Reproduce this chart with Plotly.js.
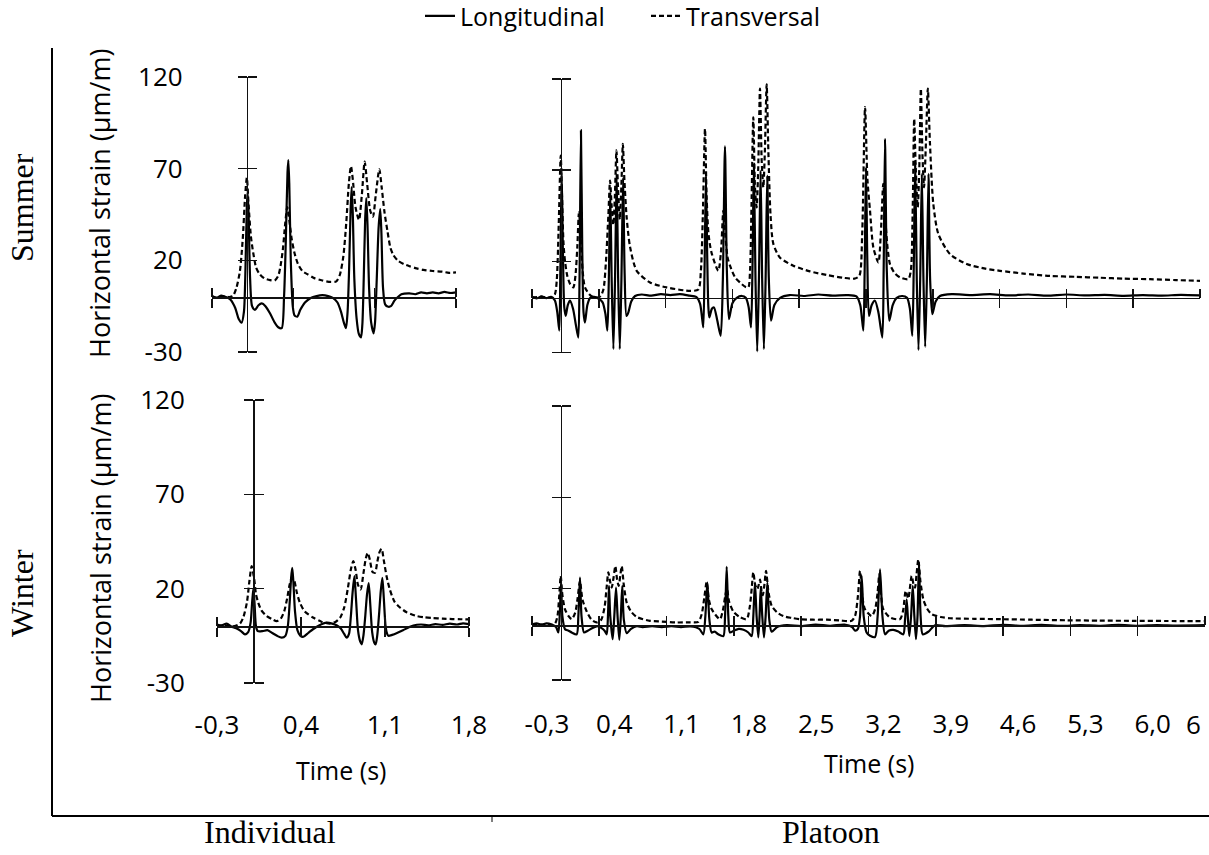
<!DOCTYPE html>
<html><head><meta charset="utf-8">
<script src="https://cdn.plot.ly/plotly-3.0.1.min.js"></script>
<style>html,body{margin:0;padding:0;background:#fff;overflow:hidden}</style>
</head><body><div id="chart" style="width:1209px;height:855px"></div>
<script>
// ---------- DATA ----------
// Summer, individual vehicle
const sIndLongT = [-0.30,-0.26,-0.22,-0.18,-0.14,-0.10,-0.07,-0.045,-0.025,-0.012,0.000,0.007,0.015,0.028,0.045,0.07,0.10,0.128,0.16,0.20,0.24,0.27,0.30,0.32,0.335,0.350,0.357,0.365,0.378,0.395,0.41,0.434,0.46,0.50,0.55,0.60,0.65,0.70,0.74,0.78,0.81,0.835,0.853,0.867,0.880,0.893,0.902,0.912,0.925,0.945,0.963,0.982,0.994,1.006,1.018,1.028,1.038,1.052,1.070,1.091,1.103,1.117,1.134,1.148,1.158,1.172,1.19,1.217,1.24,1.27,1.30,1.33,1.40,1.45,1.50,1.55,1.60,1.65,1.70,1.75,1.80];
const sIndLongV = [0.5,-0.5,0.8,0,-1.5,-6,-12,-14,-8,15,50,57,45,10,-5,-7,-4.5,-3.5,-5,-9,-14,-16.5,-17,0,30,68,74.7,62,20,-5,-10,-10.7,-7,-3,-0.5,0.5,1,0.5,-0.5,-3,-8,-14,-17,-8,15,48,60,45,10,-12,-20,-22,-15,10,42,54,40,5,-14,-19.8,-14,8,38,48,35,5,-4,-5.3,-5,-2,0,1.5,2,1.5,2.5,2,2.5,2,2.8,2.2,2.5];
const sIndTransT = [-0.30,-0.25,-0.20,-0.15,-0.12,-0.09,-0.06,-0.035,-0.015,0.000,0.015,0.035,0.055,0.08,0.11,0.15,0.20,0.24,0.27,0.29,0.31,0.33,0.348,0.365,0.385,0.41,0.44,0.48,0.52,0.58,0.65,0.72,0.77,0.80,0.83,0.855,0.878,0.896,0.912,0.935,0.965,0.99,1.014,1.035,1.062,1.085,1.11,1.14,1.16,1.185,1.21,1.235,1.26,1.30,1.35,1.40,1.46,1.52,1.60,1.68,1.74,1.80];
const sIndTransV = [0.3,-0.5,0.5,0,0.5,5,14,32,55,65,50,33,24,16,12.5,10.2,9.2,9,11.5,17,26,40,49,42,32,24,18,14,12.5,10.3,9,8.2,8.5,12,22,40,62,71.4,64,49,42,56,73.8,62,47,43.8,56,69.6,60,46,36,27,23,19.8,18,16.8,15.6,14.8,14.2,13.8,13.2,13.4];

// Summer, platoon
const sPlaLongT = [-0.30,-0.25,-0.20,-0.15,-0.10,-0.06,-0.035,-0.014,-0.003,0.011,0.024,0.038,0.053,0.075,0.098,0.13,0.16,0.185,0.198,0.213,0.227,0.24,0.255,0.28,0.31,0.35,0.40,0.44,0.47,0.49,0.505,0.52,0.535,0.553,0.57,0.587,0.603,0.62,0.637,0.655,0.67,0.69,0.71,0.74,0.78,0.85,0.95,1.05,1.15,1.25,1.35,1.42,1.46,1.48,1.495,1.508,1.523,1.537,1.548,1.558,1.585,1.607,1.64,1.677,1.70,1.722,1.742,1.764,1.80,1.845,1.90,1.94,1.97,1.995,2.01,2.025,2.042,2.06,2.078,2.095,2.112,2.13,2.148,2.165,2.182,2.205,2.24,2.30,2.40,2.55,2.70,2.85,3.00,3.10,3.14,3.172,3.186,3.20,3.214,3.231,3.26,3.294,3.33,3.371,3.385,3.399,3.418,3.444,3.48,3.522,3.58,3.63,3.66,3.685,3.70,3.715,3.732,3.75,3.768,3.785,3.802,3.82,3.838,3.855,3.872,3.895,3.93,3.975,4.1,4.3,4.5,4.7,4.9,5.1,5.3,5.5,5.7,5.9,6.1,6.3,6.5,6.7];
const sPlaLongV = [0.5,-0.3,0.8,-0.2,0.5,-1.5,-8,-18,15,68.9,25,-5,-9.9,-4,-1.6,-6,-15,-21.8,10,91.8,25,-8,-13.6,-4,0,0.5,-0.5,-2.5,-9,-18,10,58,10,-28.2,10,68,10,-28.2,10,66,15,-10,-8,-2,1,1.8,1.2,2,1.5,2,1.2,0.5,-3,-10,-16.3,15,67,20,-5,-10.8,-6,-5.3,-12,-20.9,10,83,15,-11.7,-3,0,1,0,-5,-16.3,15,73.5,10,-29.5,10,69.8,10,-28.2,10,67,10,-12.6,-4,0,1.5,1,1.8,1.2,1.5,0.8,-4,-18,15,71.6,20,-9.9,-4,-1.6,-8,-21.8,15,87.2,15,-12.6,-4,0,1,0,-6,-20.9,15,73.5,10,-28.7,10,68,10,-26.9,10,68,10,-9,-2,1,2,1.5,2,1.3,1.8,1.2,1.8,1.3,1.6,1.1,1.5,1.2,1.6,1.3];
const sPlaTransT = [-0.30,-0.20,-0.10,-0.06,-0.04,-0.02,0.001,0.015,0.03,0.046,0.07,0.10,0.133,0.155,0.175,0.192,0.21,0.23,0.255,0.30,0.34,0.378,0.42,0.45,0.475,0.50,0.518,0.535,0.553,0.568,0.585,0.60,0.62,0.637,0.652,0.668,0.692,0.727,0.797,0.937,1.11,1.356,1.443,1.47,1.49,1.513,1.53,1.55,1.58,1.652,1.68,1.705,1.725,1.75,1.775,1.83,1.88,1.935,1.967,1.985,2.0,2.019,2.037,2.054,2.07,2.089,2.107,2.124,2.14,2.159,2.177,2.20,2.229,2.299,2.438,2.613,2.788,2.962,3.08,3.13,3.16,3.19,3.215,3.242,3.277,3.33,3.355,3.381,3.40,3.425,3.451,3.50,3.556,3.643,3.67,3.69,3.705,3.722,3.742,3.758,3.775,3.792,3.808,3.828,3.848,3.87,3.905,3.958,4.08,4.255,4.45,4.604,4.85,5.128,5.40,5.652,5.90,6.176,6.45,6.70];
const sPlaTransV = [0,0.5,0,2,10,40,78,55,30,20,12,7.5,5.7,12,28,46.9,35,15,5.7,2,0.5,0,1,5,20,45,64.3,50,40,55,80.8,62,43,62,84.4,65,44,28,14.8,8.4,5.7,3.8,4.5,15,45,92.7,55,35,25,14.8,25,47.8,35,22,17.6,11,8.4,6,5.7,15,50,99,60,49.6,70,114.7,75,60.6,80,117,80,45,29.6,22,17.6,14.5,12.5,11,10.5,12,35,104.6,65,47.8,27.6,19.4,35,62.5,45,28,18.5,13.5,11.2,10.2,15,50,98.2,70,49.6,70,114.7,78,60.6,85,114.7,85,51.6,35,24,18.5,16,14.8,13.3,12,11.5,11,10.5,10.2,9.7,9.3];

// Winter, individual vehicle
const wIndLongT = [-0.30,-0.26,-0.22,-0.18,-0.14,-0.10,-0.067,-0.04,-0.02,-0.008,0.003,0.013,0.025,0.04,0.08,0.12,0.16,0.20,0.239,0.27,0.29,0.305,0.318,0.327,0.336,0.35,0.37,0.395,0.42,0.46,0.50,0.55,0.614,0.66,0.70,0.73,0.76,0.78,0.80,0.815,0.83,0.845,0.858,0.875,0.893,0.906,0.92,0.935,0.95,0.964,0.977,0.993,1.01,1.022,1.035,1.05,1.065,1.078,1.09,1.105,1.118,1.128,1.16,1.20,1.25,1.30,1.336,1.40,1.46,1.52,1.58,1.64,1.70,1.75,1.80];
const wIndLongV = [1,0.5,1.5,0,-1,-2.5,-4.2,-3,2,12,20,12,0,-2.5,-2.5,-2,-3.5,-5,-6,-5,0,12,26,31,24,8,-2,-5,-5.5,-3.5,-1.5,0.5,2,1.5,0.5,-1,-4,-6,-4,5,18,26.6,15,-2,-8,-9.5,-5,5,17,23,12,-3,-8.5,-9.5,-5,6,19,25.7,15,0,-4,-5,-4.5,-3.5,-2,-0.5,0.5,1,0.6,1.2,0.8,1.5,1,1.6,1.2];
const wIndTransT = [-0.30,-0.24,-0.18,-0.14,-0.108,-0.08,-0.05,-0.03,-0.011,0.01,0.025,0.044,0.07,0.114,0.16,0.197,0.23,0.26,0.285,0.305,0.325,0.345,0.365,0.39,0.43,0.50,0.57,0.64,0.69,0.725,0.76,0.79,0.815,0.836,0.855,0.875,0.897,0.92,0.94,0.956,0.975,0.995,1.017,1.035,1.055,1.072,1.09,1.115,1.14,1.18,1.225,1.28,1.364,1.43,1.50,1.58,1.66,1.73,1.80];
const wIndTransV = [0,0.5,0,0.5,1.5,5,13,24,31.9,25,17,12.5,8.5,5.5,3.8,2.8,4,8,15,22,26,24,18,12.7,8,4.7,2.5,1.5,2.5,4.5,10,20,30,34.6,30,22,19.6,28,36,39,35,29,28.4,34,39.5,41.1,35,26,19.6,13,10,7.5,5.5,4.8,4.4,4.1,3.9,3.8,3.7];

// Winter, platoon
const wPlaLongT = [-0.30,-0.25,-0.20,-0.15,-0.10,-0.05,-0.026,-0.012,0.002,0.016,0.043,0.08,0.113,0.165,0.182,0.199,0.215,0.241,0.28,0.33,0.38,0.42,0.455,0.477,0.49,0.501,0.514,0.539,0.556,0.574,0.59,0.608,0.624,0.639,0.655,0.685,0.73,0.789,0.85,0.95,1.05,1.15,1.25,1.35,1.44,1.482,1.503,1.524,1.545,1.569,1.60,1.638,1.69,1.708,1.725,1.742,1.759,1.80,1.85,1.90,1.95,1.985,2.002,2.019,2.036,2.054,2.067,2.079,2.095,2.113,2.13,2.148,2.168,2.193,2.25,2.35,2.50,2.65,2.80,2.95,3.03,3.06,3.09,3.112,3.129,3.15,3.18,3.216,3.268,3.295,3.32,3.345,3.372,3.41,3.458,3.51,3.562,3.58,3.597,3.612,3.625,3.643,3.66,3.677,3.694,3.71,3.725,3.742,3.764,3.822,3.892,4.0,4.2,4.4,4.6,4.8,5.0,5.2,5.4,5.6,5.8,6.0,6.2,6.4,6.7];
const wPlaLongV = [0.5,1,0.3,1,0.5,-1,-4,5,23.3,5,-2.2,-3,-4,-5,5,26,5,-4,-3,-1.5,-0.5,-1.5,-3,-5,5,21.5,5,-7.7,5,20.6,5,-8,5,21.5,3,-4.4,-2,-0.5,-1,-0.5,-1,-0.5,-1,-0.7,-2,-5,5,23.3,3,-4,-3.5,-5,-6,5,32,5,-4,-3,-2,-2.5,-4,-6,5,23.3,5,-6.7,5,20.6,5,-6.7,5,23.3,3,-3.6,-1,0,-0.5,0.3,-0.3,0.3,-1,-3,-2,5,27,5,-4,-5.8,-6.5,5,30.6,5,-5,-3,-2.6,-3.5,-5,3,14.2,2,-6,5,21.5,5,-7.7,5,34.3,5,-5,-3.6,0,-0.5,0,-0.5,0.2,-0.3,0.2,-0.4,0,-0.3,0.2,-0.3,0.1,-0.2,0];
const wPlaTransT = [-0.30,-0.20,-0.10,-0.06,-0.035,-0.018,-0.001,0.015,0.043,0.08,0.113,0.15,0.175,0.199,0.225,0.269,0.32,0.373,0.42,0.455,0.475,0.494,0.512,0.529,0.548,0.567,0.585,0.602,0.618,0.633,0.655,0.685,0.73,0.789,0.927,1.05,1.205,1.34,1.43,1.465,1.492,1.517,1.54,1.569,1.655,1.685,1.71,1.728,1.75,1.794,1.86,1.933,1.965,1.985,2.002,2.022,2.043,2.058,2.072,2.087,2.10,2.117,2.134,2.16,2.193,2.25,2.314,2.40,2.488,2.62,2.765,2.90,3.025,3.06,3.09,3.112,3.135,3.164,3.233,3.27,3.295,3.312,3.33,3.354,3.424,3.528,3.56,3.587,3.614,3.63,3.649,3.67,3.684,3.70,3.718,3.74,3.77,3.81,3.857,3.95,4.048,4.30,4.568,4.90,5.262,5.60,5.955,6.30,6.70];
const wPlaTransV = [0,0.3,0,1,5,15,27,17,8.7,5,3.3,7,15,24.2,14,7.5,3,1.5,3,10,20,29,24,20.6,26,32.4,25,21.5,27,32.4,22,12.4,7.5,4.5,2.4,2,1.5,1.6,1.8,6,15,23.7,14,8.7,3.3,8,16,20,13,7.5,4.5,3.3,10,20,29,22,19.7,22,25,19,16.4,22,29.7,18,10.6,7,5,4,3.3,3,3,2.6,2.4,5,16,29.7,16,8.7,5,9,18,27.9,17,8.7,4.2,3.3,8,18.8,14.6,20,27,22,20.6,28,36,24,14.2,9,6,4.5,3.8,3.5,3.3,3,2.7,2.5,2.4,2.3,2.2];

// Axes ticks
const strainTickVals = [-30, 20, 70, 120];
const strainTickText = ['-30', '20', '70', '120'];
const indTimeTickVals = [-0.3, 0.4, 1.1, 1.8];
const indTimeTickText = ['-0,3', '0,4', '1,1', '1,8'];
const plaTimeTickVals = [-0.3, 0.4, 1.1, 1.8, 2.5, 3.2, 3.9, 4.6, 5.3, 6.0, 6.7];
const plaTimeTickText = ['-0,3', '0,4', '1,1', '1,8', '2,5', '3,2', '3,9', '4,6', '5,3', '6,0', ''];
const plaLastTickLabel = '6';   // the last label is truncated to "6" at the chart edge
const strainRange = [-30, 120];
const indTimeRange = [-0.3, 1.8];
const plaTimeRange = [-0.3, 6.7];

// ---------- LAYOUT HELPERS ----------
const W = 1209, H = 855;
const FONT = 'Open Sans, sans-serif';
const SERIF = 'Liberation Serif, Times New Roman, serif';
const px = v => v / W;
const py = v => 1 - v / H;

function zeroPos(dom, rng) { return dom[0] + (0 - rng[0]) / (rng[1] - rng[0]) * (dom[1] - dom[0]); }

const panels = {
  A: {xd: [px(212), px(456)], yd: [py(352), py(77)], xr: indTimeRange},
  B: {xd: [px(532), px(1200)], yd: [py(352.5), py(79)], xr: plaTimeRange},
  C: {xd: [px(217), px(469)], yd: [py(683), py(400)], xr: indTimeRange},
  D: {xd: [px(532), px(1205)], yd: [py(680), py(406)], xr: plaTimeRange}
};

function xAx(p, tv, tt, showLab, shift) {
  return {
    domain: p.xd, range: p.xr, anchor: 'free', position: zeroPos(p.yd, strainRange),
    showline: true, linecolor: '#111', linewidth: 1.6,
    tickmode: 'array', tickvals: tv, ticktext: tt,
    ticks: 'outside', ticklen: 9, tickwidth: 1.6, tickcolor: '#111',
    minor: {tickmode: 'array', tickvals: tv, ticks: 'inside', ticklen: 9, tickwidth: 1.6, tickcolor: '#111'},
    showticklabels: showLab, ticklabelstandoff: 66, ticklabelshift: shift || 0,
    ticklabeloverflow: 'allow',
    tickfont: {family: FONT, size: 26, color: '#000'},
    showgrid: false, zeroline: false, fixedrange: true
  };
}
function yAx(p, showLab, standoff) {
  return {
    domain: p.yd, range: strainRange, anchor: 'free', position: zeroPos(p.xd, p.xr),
    showline: true, linecolor: '#111', linewidth: 1.6,
    tickmode: 'array', tickvals: strainTickVals, ticktext: strainTickText,
    ticks: 'outside', ticklen: 9, tickwidth: 1.6, tickcolor: '#111',
    minor: {tickmode: 'array', tickvals: strainTickVals, ticks: 'inside', ticklen: 9, tickwidth: 1.6, tickcolor: '#111'},
    showticklabels: showLab, ticklabelstandoff: standoff,
    tickfont: {family: FONT, size: 26, color: '#000'},
    showgrid: false, zeroline: false, fixedrange: true
  };
}

const solid = {color: '#000', width: 2.2, shape: 'spline', smoothing: 0.7};
const dashed = {color: '#000', width: 2.2, dash: '5px,3px', shape: 'spline', smoothing: 0.7};

function tr(x, y, line, xa, ya, name, show) {
  return {type: 'scatter', mode: 'lines', x, y, xaxis: xa, yaxis: ya, line, name,
          legendgroup: name, showlegend: show, hoverinfo: 'skip'};
}

const data = [
  tr(sIndLongT, sIndLongV, solid, 'x', 'y', 'Longitudinal', true),
  tr(sIndTransT, sIndTransV, dashed, 'x', 'y', 'Transversal', true),
  tr(sPlaLongT, sPlaLongV, solid, 'x2', 'y2', 'Longitudinal', false),
  tr(sPlaTransT, sPlaTransV, dashed, 'x2', 'y2', 'Transversal', false),
  tr(wIndLongT, wIndLongV, solid, 'x3', 'y3', 'Longitudinal', false),
  tr(wIndTransT, wIndTransV, dashed, 'x3', 'y3', 'Transversal', false),
  tr(wPlaLongT, wPlaLongV, solid, 'x4', 'y4', 'Longitudinal', false),
  tr(wPlaTransT, wPlaTransV, dashed, 'x4', 'y4', 'Transversal', false)
];

function ann(text, x, y, size, family, angle) {
  return {text, x: px(x), y: py(y), xref: 'paper', yref: 'paper', showarrow: false,
          xanchor: 'center', yanchor: 'middle', textangle: angle || 0,
          font: {family, size, color: '#000'}};
}

const lastLabelAnn = {
  text: plaLastTickLabel, x: plaTimeTickVals[plaTimeTickVals.length - 1], xref: 'x4',
  y: py(724), yref: 'paper', xshift: -12, showarrow: false,
  xanchor: 'center', yanchor: 'middle', font: {family: FONT, size: 26, color: '#000'}
};

const layout = {
  width: W, height: H, margin: {l: 0, r: 0, t: 0, b: 0, autoexpand: false},
  paper_bgcolor: '#fff', plot_bgcolor: 'rgba(0,0,0,0)',
  showlegend: true,
  legend: {orientation: 'h', x: px(420), xanchor: 'left', y: 1.008, yanchor: 'top',
           entrywidth: 181, entrywidthmode: 'pixels',
           font: {family: FONT, size: 25, color: '#000'}, itemwidth: 30, tracegroupgap: 0,
           bgcolor: 'rgba(0,0,0,0)'},
  xaxis: xAx(panels.A, indTimeTickVals, indTimeTickText, false),
  yaxis: yAx(panels.A, true, 50),
  xaxis2: xAx(panels.B, plaTimeTickVals, plaTimeTickText, false),
  yaxis2: yAx(panels.B, false, 0),
  xaxis3: xAx(panels.C, indTimeTickVals, indTimeTickText, true, 0),
  yaxis3: yAx(panels.C, true, 54),
  xaxis4: xAx(panels.D, plaTimeTickVals, plaTimeTickText, true, 15),
  yaxis4: yAx(panels.D, false, 0),
  annotations: [
    ann('Horizontal strain (µm/m)', 100, 204, 27, FONT, -90),
    ann('Horizontal strain (µm/m)', 100, 549, 27, FONT, -90),
    ann('Time (s)', 341, 770, 25, FONT),
    ann('Time (s)', 869, 763, 25, FONT),
    ann('Summer', 22, 208, 32, SERIF, -90),
    ann('Winter', 22, 593, 32, SERIF, -90),
    ann('Individual', 270, 832, 32, SERIF),
    ann('Platoon', 831, 832, 32, SERIF),
    lastLabelAnn
  ],
  shapes: [
    {type: 'line', xref: 'paper', yref: 'paper', x0: px(52), x1: px(52), y0: py(48), y1: py(816), line: {color: '#000', width: 2}},
    {type: 'line', xref: 'paper', yref: 'paper', x0: px(52), x1: px(1209), y0: py(816), y1: py(816), line: {color: '#000', width: 2}},
    {type: 'line', xref: 'paper', yref: 'paper', x0: px(492), x1: px(492), y0: py(816), y1: py(822), line: {color: '#000', width: 1}}
  ]
};

Plotly.newPlot('chart', data, layout, {staticPlot: true, displayModeBar: false});
</script></body></html>
